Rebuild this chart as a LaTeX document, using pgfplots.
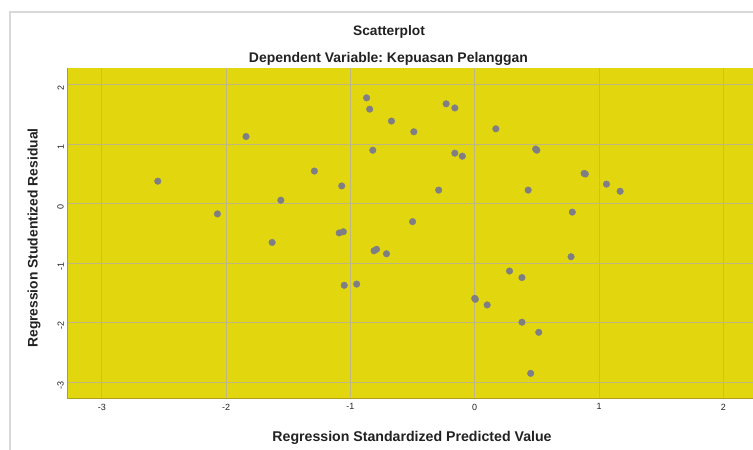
\documentclass[border=0pt]{standalone}
\usepackage{pgfplots}
\pgfplotsset{compat=1.18}
\usepackage{fontspec}
\setmainfont{Liberation Sans}
\frenchspacing
\definecolor{bgyellow}{HTML}{E2D70F}
\definecolor{gridc}{HTML}{BEB784}
\definecolor{dotc}{HTML}{7E7E84}
\definecolor{axc}{HTML}{ADA220}
\definecolor{framec}{HTML}{D9D9D9}
\definecolor{txt}{HTML}{222222}
\begin{document}
\begin{tikzpicture}[x=1bp,y=1bp]
\useasboundingbox (0,0) rectangle (753,450);
\fill[white] (0,0) rectangle (753,450);
\draw[framec, line width=1.2bp] (10,0) -- (10,438) -- (753,438);
\node[font=\bfseries\fontsize{13.8}{15}\selectfont, text=txt] at (389,418) {Scatterplot};
\node[font=\bfseries\fontsize{14}{15}\selectfont, text=txt] at (388.5,391) {Dependent Variable: Kepuasan Pelanggan};
\node[font=\bfseries\fontsize{14.2}{15}\selectfont, text=txt] at (412,12.5) {Regression Standardized Predicted Value};
\node[font=\bfseries\fontsize{13.9}{15}\selectfont, text=txt, rotate=90] at (34,212) {Regression Studentized Residual};
\begin{axis}[
  at={(67.3bp,51.7bp)}, anchor=south west,
  width=685.7bp, height=330bp, scale only axis,
  xmin=-3.278, xmax=2.239, ymin=-3.269, ymax=2.277,
  axis background/.style={fill=bgyellow},
  axis lines*=left,
  axis line style={axc, line width=1.2bp, -},
  xtick={-3,-2,-1,0,1,2}, ytick={-3,-2,-1,0,1,2},
  grid=major,
  major grid style={gridc, line width=1bp},
  major tick length=0pt,
  /pgf/number format/assume math mode=true,
  tick label style={font=\fontsize{9}{10}\selectfont, text=txt},
  xticklabel style={yshift=-2bp},
  yticklabel style={rotate=90, anchor=south, xshift=-3bp},
  clip=false,
]
\addplot[only marks, mark=*, mark size=3.3bp, mark options={fill=dotc, draw=dotc}] coordinates {
(-2.55,0.38) (-1.84,1.13) (-2.07,-0.17) (-1.29,0.55) (-1.56,0.06) (-1.07,0.30)
(-1.63,-0.65) (-1.09,-0.49) (-1.057,-0.47) (-0.87,1.78) (-0.845,1.59) (-0.67,1.39)
(-0.82,0.90) (-0.81,-0.79) (-0.79,-0.765) (-0.71,-0.84)
(-0.49,1.21) (-0.23,1.68) (-0.16,1.61) (-0.16,0.85) (-0.10,0.80) (-0.29,0.23)
(0.17,1.26) (0.49,0.92) (0.50,0.90) (0.43,0.23) (0.88,0.51) (0.89,0.50)
(1.06,0.33) (1.17,0.21) (0.785,-0.14) (-0.50,-0.30)
(-1.05,-1.37) (-0.95,-1.35) (0.775,-0.89) (0.28,-1.13) (0.38,-1.24)
(0.0,-1.59) (0.005,-1.605) (0.10,-1.70) (0.38,-1.99) (0.515,-2.16) (0.45,-2.85)
};
\end{axis}
\end{tikzpicture}
\end{document}
